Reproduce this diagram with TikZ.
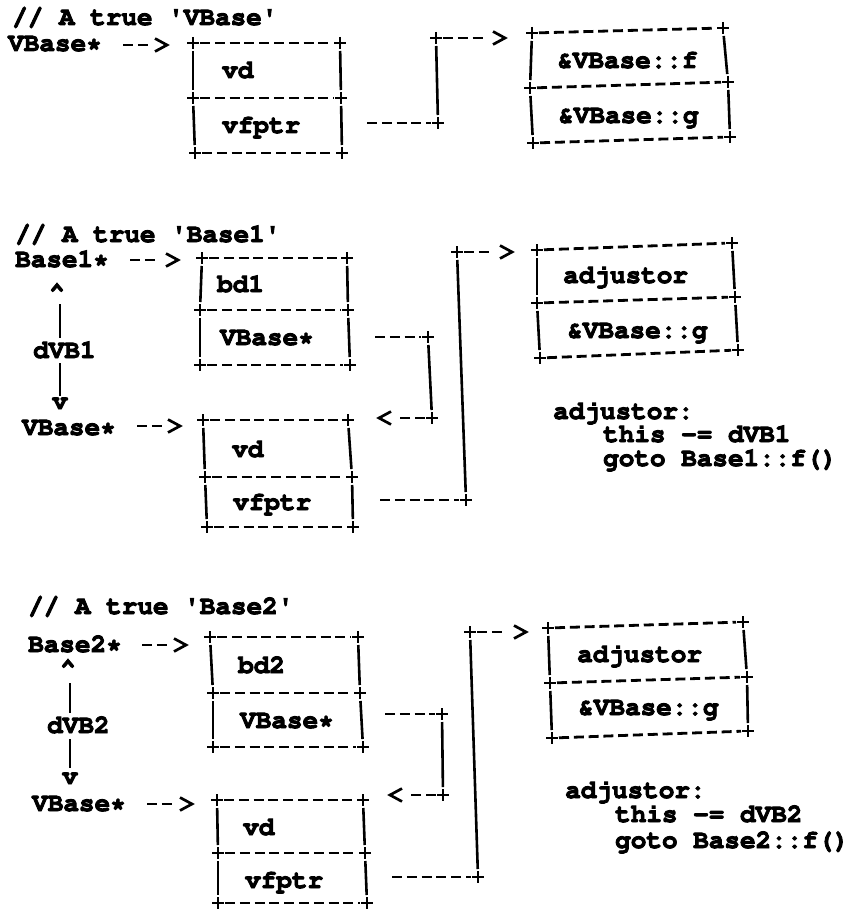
\documentclass[tikz,border=0pt]{standalone}
\usepackage[T1]{fontenc}
\usepackage{textcomp}
\newcommand\cour{\fontsize{26}{30}\fontfamily{pcr}\fontseries{b}\selectfont}
\newcommand\fbon{\special{pdf:literal direct 2 Tr 0.9 w}}
\newcommand\fboff{\special{pdf:literal direct 0 Tr}}
\newcommand\q{\textquotesingle}
\tikzset{
  lab/.style={font=\cour, inner sep=0pt, anchor=base west,
    execute at begin node=\fbon, execute at end node=\fboff},
  labc/.style={lab, anchor=base},
  dsh/.style={line width=2.8pt, dash pattern=on 10pt off 4.8pt},
  asc/.style={dsh, shorten <=7pt, shorten >=7pt},
  vbar/.style={line width=2.6pt, shorten <=8pt, shorten >=8pt},
  sbar/.style={line width=2.6pt},
  pics/pl/.style={code={\draw[line width=2.6pt] (-6,0)--(6,0) (0,-6)--(0,6);}},
  pics/chR/.style={code={\draw[line width=2.7pt] (-12,-6.5)--(0,0)--(-12,6.5);}},
  pics/chL/.style={code={\draw[line width=2.7pt] (12,-6.5)--(0,0)--(12,6.5);}},
}
\newcommand\membox[1]{%
  \draw[asc] (#1tl) -- (#1tr);
  \draw[asc] (#1ml) -- (#1mr);
  \draw[asc] (#1bl) -- (#1br);
  \draw[vbar] (#1tl) -- (#1ml);
  \draw[vbar] (#1ml) -- (#1bl);
  \draw[vbar] (#1tr) -- (#1mr);
  \draw[vbar] (#1mr) -- (#1br);
  \foreach \k in {tl,tr,ml,mr,bl,br} {\pic at (#1\k) {pl};}%
}
\newcommand\boxat[7]{% name, tl, tr, ml, mr, bl, br
  \coordinate (#1tl) at #2; \coordinate (#1tr) at #3;
  \coordinate (#1ml) at #4; \coordinate (#1mr) at #5;
  \coordinate (#1bl) at #6; \coordinate (#1br) at #7;
  \membox{#1}}
\begin{document}
\begin{tikzpicture}[x=1pt,y=-1pt]
\useasboundingbox (0,0) rectangle (854,912);

% ---------------- Section 1 ----------------
\node[lab] (t1) at (12,25) {// A true \q VBase\q};
\node[lab] (vbp1) at (8,51) {VBase*};
\coordinate (a1s) at (123,45); \coordinate (a1e) at (148,45); \coordinate (a1h) at (167,45);
\draw[dsh] (a1s) -- (a1e); \pic at (a1h) {chR};

\boxat{A}{(193,43)}{(340,43)}{(193,98)}{(341,98)}{(195,153)}{(342,153)}
\node[lab] (vdA) at (222,78) {vd};
\node[lab] (vfA) at (222,133) {vfptr};

\boxat{B}{(532,33)}{(723,28)}{(530,88)}{(728,82)}{(533,143)}{(730,137)}
\node[lab] (fB) at (557,68) {\&VBase::f};
\node[lab] (gB) at (558,123) {\&VBase::g};

\coordinate (s1) at (367,123); \coordinate (p1a) at (438,123);
\coordinate (p1b) at (436,38); \coordinate (e1) at (483,38); \coordinate (h1) at (505,38);
\draw[dsh, shorten >=7pt] (s1) -- (p1a);
\draw[vbar] (p1a) -- (p1b);
\draw[dsh, shorten <=7pt] (p1b) -- (e1);
\pic at (p1a) {pl}; \pic at (p1b) {pl}; \pic at (h1) {chR};

% ---------------- Section 2 ----------------
\node[lab] (t2) at (15,242) {// A true \q Base1\q};
\node[lab] (b1p) at (15,267) {Base1*};
\coordinate (a2s) at (130,260); \coordinate (a2e) at (155,260); \coordinate (a2h) at (178,260);
\draw[dsh] (a2s) -- (a2e); \pic at (a2h) {chR};

\boxat{C}{(202,258)}{(347,258)}{(200,310)}{(348,310)}{(200,365)}{(350,365)}
\node[lab] (bdC) at (217,292) {bd1};
\node[lab] (vbC) at (220,345) {VBase*};

\node[labc] (car1) at (57,300) {\textasciicircum};
\coordinate (d1a) at (60,304); \coordinate (d1b) at (60,338);
\draw[sbar] (d1a) -- (d1b);
\node[lab] (dvb1) at (33,358) {dVB1};
\coordinate (d1c) at (60,363); \coordinate (d1d) at (60,396);
\draw[sbar] (d1c) -- (d1d);
\node[labc] (v1) at (60,409) {v};

\boxat{D}{(203,420)}{(348,420)}{(205,477)}{(352,477)}{(207,527)}{(353,527)}
\node[lab] (vdD) at (232,457) {vd};
\node[lab] (vfD) at (233,510) {vfptr};
\node[lab] (vbp2) at (22,435) {VBase*};
\coordinate (a3s) at (137,426); \coordinate (a3e) at (162,426); \coordinate (a3h) at (180,426);
\draw[dsh] (a3s) -- (a3e); \pic at (a3h) {chR};

\coordinate (s2) at (375,337); \coordinate (q2a) at (428,337);
\coordinate (q2b) at (432,418); \coordinate (e2) at (400,418); \coordinate (h2) at (379,418);
\draw[dsh, shorten >=7pt] (s2) -- (q2a);
\draw[vbar] (q2a) -- (q2b);
\draw[dsh, shorten <=7pt] (q2b) -- (e2);
\pic at (q2a) {pl}; \pic at (q2b) {pl}; \pic at (h2) {chL};

\coordinate (s3) at (380,500); \coordinate (r2a) at (466,500);
\coordinate (r2b) at (457,252); \coordinate (e3) at (489,252); \coordinate (h3) at (512,252);
\draw[dsh, shorten >=7pt] (s3) -- (r2a);
\draw[vbar] (r2a) -- (r2b);
\draw[dsh, shorten <=7pt] (r2b) -- (e3);
\pic at (r2a) {pl}; \pic at (r2b) {pl}; \pic at (h3) {chR};

\boxat{E}{(537,250)}{(732,243)}{(537,303)}{(735,297)}{(540,358)}{(738,350)}
\node[lab] (adE) at (563,283) {adjustor};
\node[lab] (gE) at (567,338) {\&VBase::g};

\node[lab] (ad1) at (553,419) {adjustor:};
\node[lab] (th1) at (603,442) {this -= dVB1};
\node[lab] (go1) at (603,466) {goto Base1::f()};

% ---------------- Section 3 ----------------
\node[lab] (t3) at (28,614) {// A true \q Base2\q};
\node[lab] (b2p) at (28,652) {Base2*};
\coordinate (a4s) at (142,645); \coordinate (a4e) at (167,645); \coordinate (a4h) at (186,645);
\draw[dsh] (a4s) -- (a4e); \pic at (a4h) {chR};

\boxat{F}{(210,637)}{(358,637)}{(213,693)}{(360,693)}{(213,747)}{(363,747)}
\node[lab] (bdF) at (238,673) {bd2};
\node[lab] (vbF) at (240,728) {VBase*};

\node[labc] (car2) at (68,676) {\textasciicircum};
\coordinate (d2a) at (70,683); \coordinate (d2b) at (70,713);
\draw[sbar] (d2a) -- (d2b);
\node[lab] (dvb2) at (47,733) {dVB2};
\coordinate (d2c) at (70,739); \coordinate (d2d) at (70,768);
\draw[sbar] (d2c) -- (d2d);
\node[labc] (v2) at (70,784) {v};

\boxat{G}{(217,800)}{(363,800)}{(218,853)}{(365,853)}{(218,903)}{(367,903)}
\node[lab] (vdG) at (243,835) {vd};
\node[lab] (vfG) at (245,888) {vfptr};
\node[lab] (vbp3) at (32,811) {VBase*};
\coordinate (a5s) at (147,804); \coordinate (a5e) at (172,804); \coordinate (a5h) at (192,804);
\draw[dsh] (a5s) -- (a5e); \pic at (a5h) {chR};

\coordinate (s4) at (385,714); \coordinate (q3a) at (442,714);
\coordinate (q3b) at (443,795); \coordinate (e4) at (411,795); \coordinate (h4) at (390,795);
\draw[dsh, shorten >=7pt] (s4) -- (q3a);
\draw[vbar] (q3a) -- (q3b);
\draw[dsh, shorten <=7pt] (q3b) -- (e4);
\pic at (q3a) {pl}; \pic at (q3b) {pl}; \pic at (h4) {chL};

\coordinate (s5) at (392,877); \coordinate (r3a) at (478,877);
\coordinate (r3b) at (470,632); \coordinate (e5) at (502,632); \coordinate (h5) at (526,632);
\draw[dsh, shorten >=7pt] (s5) -- (r3a);
\draw[vbar] (r3a) -- (r3b);
\draw[dsh, shorten <=7pt] (r3b) -- (e5);
\pic at (r3a) {pl}; \pic at (r3b) {pl}; \pic at (h5) {chR};

\boxat{H}{(548,628)}{(743,622)}{(550,683)}{(747,677)}{(552,738)}{(748,731)}
\node[lab] (adH) at (577,662) {adjustor};
\node[lab] (gH) at (578,715) {\&VBase::g};

\node[lab] (ad2) at (565,798) {adjustor:};
\node[lab] (th2) at (615,822) {this -= dVB2};
\node[lab] (go2) at (615,848) {goto Base2::f()};
\end{tikzpicture}
\end{document}
